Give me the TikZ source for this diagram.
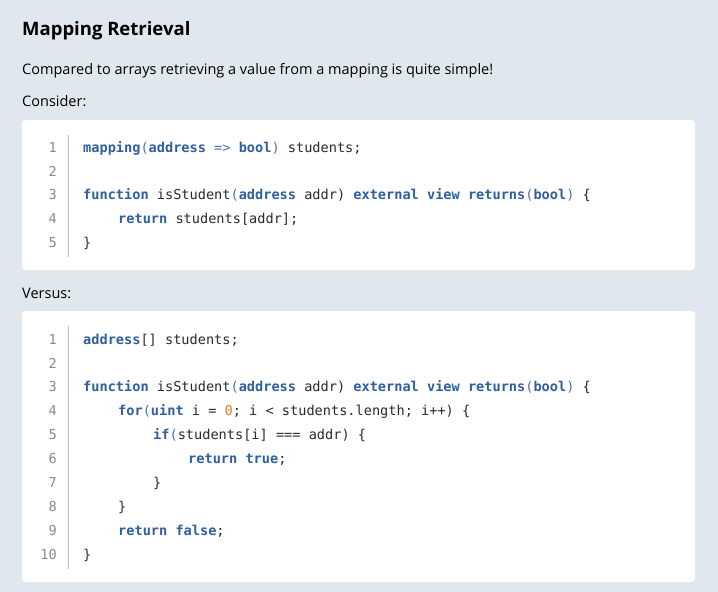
\documentclass[tikz,border=0pt]{standalone}
\usepackage{fontspec}
\setmainfont{Open Sans}
\newfontfamily\codefont{DejaVu Sans Mono}
\definecolor{bg}{HTML}{E1E7EF}
\definecolor{kw}{HTML}{2F5F9E}
\definecolor{pc}{HTML}{4A74AA}
\definecolor{tx}{HTML}{2B2B2B}
\definecolor{ln}{HTML}{8A8A8A}
\definecolor{nm}{HTML}{D08030}
\newcommand\kw[1]{\textcolor{kw}{\bfseries #1}}
\newcommand\pp[1]{\textcolor{pc}{#1}}
\begin{document}
\begin{tikzpicture}[x=1pt,y=-1pt,
  code/.style={anchor=base west,inner sep=0,text=tx,font=\codefont\fontsize{13.6}{16}\selectfont},
  lnum/.style={anchor=base east,inner sep=0,text=ln,font=\codefont\fontsize{13.6}{16}\selectfont},
  prose/.style={anchor=base west,inner sep=0,text=black,font=\fontsize{14.5}{17}\selectfont},
  box/.style={fill=white,rounded corners=3pt,draw=none}]
\fill[bg] (0,0) rectangle (718,592);
\node[anchor=base west,inner sep=0,font=\bfseries\fontsize{18.5}{22}\selectfont] (title) at (22,35) {Mapping Retrieval};
\node[prose] (p1) at (22,74) {Compared to arrays retrieving a value from a mapping is quite simple!};
\node[prose] (p2) at (22,106) {Consider:};
\fill[box] (22,120) rectangle (695,270);
\draw[ln!60,line width=0.8pt] (68,135) -- (68,257);
\foreach \n/\y in {1/152,2/176,3/199,4/223,5/247}{\node[lnum] (a\n) at (57,\y) {\n};}
\node[code] (a1c) at (83,152) {\kw{mapping}\pp{(}\kw{address} \pp{=>} \kw{bool}\pp{)} students;};
\node[code] (a3c) at (83,199) {\kw{function} isStudent\pp{(}\kw{address} addr) \kw{external} \kw{view} \kw{returns}\pp{(}\kw{bool}\pp{)} \{};
\node[code] (a4c) at (118,223) {\kw{return} students[addr];};
\node[code] (a5c) at (83,247) {\}};
\node[prose] (p3) at (22,298) {Versus:};
\fill[box] (22,311) rectangle (695,582);
\draw[ln!60,line width=0.8pt] (68,326) -- (68,569);
\foreach \n/\y in {1/344,2/368,3/391,4/415,5/439,6/463,7/487,8/511,9/535,10/559}{\node[lnum] (b\n) at (57,\y) {\n};}
\node[code] (b1c) at (83,344) {\kw{address}[] students;};
\node[code] (b3c) at (83,391) {\kw{function} isStudent\pp{(}\kw{address} addr) \kw{external} \kw{view} \kw{returns}\pp{(}\kw{bool}\pp{)} \{};
\node[code] (b4c) at (118,415) {\kw{for}\pp{(}\kw{uint} i = \textcolor{nm}{0}; i < students.length; i++) \{};
\node[code] (b5c) at (153,439) {\kw{if}\pp{(}students[i] === addr) \{};
\node[code] (b6c) at (188,463) {\kw{return} \kw{true};};
\node[code] (b7c) at (153,487) {\}};
\node[code] (b8c) at (118,511) {\}};
\node[code] (b9c) at (118,535) {\kw{return} \kw{false};};
\node[code] (b10c) at (83,559) {\}};
\end{tikzpicture}
\end{document}
